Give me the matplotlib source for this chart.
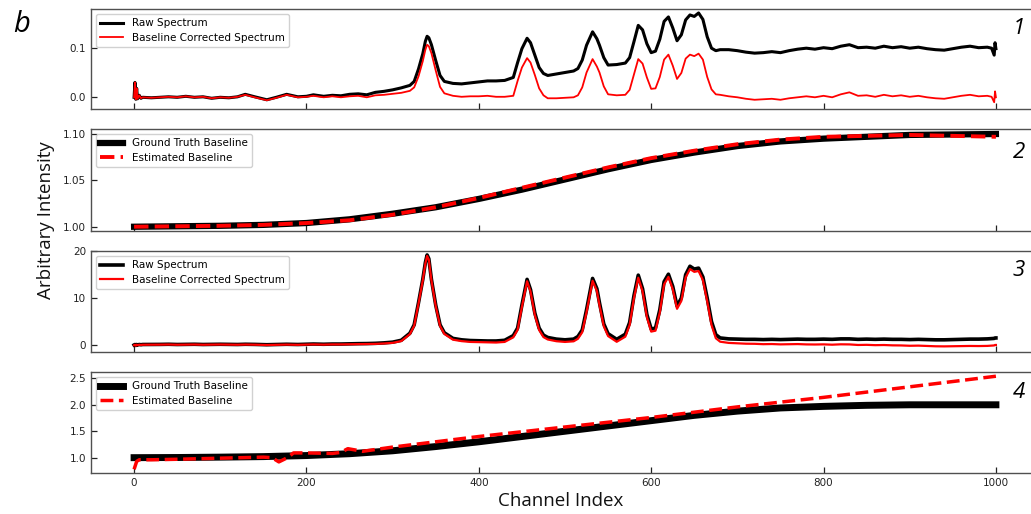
import matplotlib
matplotlib.use("Agg")
import matplotlib.pyplot as plt

# ---------------- data ----------------
channels = [0, 1, 2, 3, 4, 6, 8, 10,
            20, 30, 40, 50, 60, 70, 80, 90, 100, 110, 120,
            129, 140, 154, 165, 177, 190, 200, 208, 220, 230, 240,
            250, 260, 270, 280, 290, 300, 310, 320, 325, 330,
            335, 338, 340, 342, 345, 350, 355, 360, 370, 380, 390, 400,
            410, 420, 430, 440, 445, 450, 456, 460, 465, 470,
            475, 480, 490, 500, 510, 515, 520, 525, 532, 537,
            540, 545, 550, 560, 570, 575, 580, 585, 590, 595,
            600, 605, 610, 615, 620, 625, 630, 635, 640, 645,
            650, 655, 660, 665, 670, 675, 680, 690, 700, 710,
            720, 730, 740, 750, 760, 770, 780, 790, 800, 810,
            820, 830, 840, 850, 860, 870, 880, 890, 900, 910,
            920, 930, 940, 950, 960, 970, 980, 990, 995, 998,
            999, 1000]

raw1 = [0.000, 0.030, -0.004, 0.018, -0.003, 0.004, -0.002, 0.000,
        -0.001, 0.000, 0.001, 0.000, 0.002, 0.000, 0.001, -0.002, 0.000, -0.001, 0.001,
        0.006, 0.001, -0.005, 0.000, 0.006, 0.001, 0.002, 0.005, 0.002, 0.004, 0.003,
        0.006, 0.007, 0.005, 0.010, 0.012, 0.015, 0.019, 0.024, 0.032, 0.057,
        0.088, 0.113, 0.123, 0.120, 0.106, 0.074, 0.044, 0.032, 0.028, 0.027, 0.029, 0.031,
        0.033, 0.033, 0.034, 0.040, 0.070, 0.098, 0.119, 0.110, 0.085, 0.060,
        0.048, 0.044, 0.047, 0.050, 0.053, 0.058, 0.075, 0.105, 0.132, 0.118,
        0.105, 0.080, 0.065, 0.066, 0.069, 0.080, 0.112, 0.145, 0.136, 0.108,
        0.090, 0.093, 0.117, 0.153, 0.162, 0.140, 0.114, 0.126, 0.156, 0.166,
        0.163, 0.170, 0.157, 0.122, 0.099, 0.094, 0.096, 0.096, 0.094, 0.091,
        0.089, 0.090, 0.092, 0.090, 0.094, 0.097, 0.099, 0.097, 0.100, 0.098,
        0.103, 0.106, 0.100, 0.101, 0.099, 0.103, 0.100, 0.102, 0.099, 0.101,
        0.098, 0.096, 0.095, 0.098, 0.101, 0.103, 0.100, 0.101, 0.099, 0.085,
        0.110, 0.098]

corr1 = [0.000, 0.030, -0.004, 0.018, -0.003, 0.004, -0.002, 0.000,
         -0.001, 0.000, 0.001, 0.000, 0.002, 0.000, 0.001, -0.002, 0.000, -0.001, 0.001,
         0.005, 0.000, -0.006, -0.001, 0.005, 0.000, 0.001, 0.003, 0.000, 0.002, 0.000,
         0.002, 0.003, 0.000, 0.004, 0.005, 0.007, 0.009, 0.013, 0.020, 0.042,
         0.073, 0.096, 0.106, 0.103, 0.089, 0.054, 0.021, 0.008, 0.003, 0.001, 0.002, 0.002,
         0.003, 0.001, 0.001, 0.003, 0.033, 0.060, 0.079, 0.070, 0.045, 0.018,
         0.004, -0.002, -0.002, -0.001, 0.000, 0.004, 0.020, 0.050, 0.077, 0.062,
         0.050, 0.022, 0.006, 0.004, 0.005, 0.015, 0.046, 0.077, 0.068, 0.040,
         0.017, 0.018, 0.041, 0.076, 0.086, 0.064, 0.037, 0.049, 0.078, 0.086,
         0.083, 0.088, 0.076, 0.041, 0.016, 0.006, 0.005, 0.002, 0.000, -0.003,
         -0.005, -0.004, -0.003, -0.005, -0.002, 0.000, 0.002, 0.000, 0.003, 0.000,
         0.006, 0.010, 0.003, 0.004, 0.001, 0.005, 0.002, 0.004, 0.001, 0.003,
         0.000, -0.002, -0.003, 0.000, 0.003, 0.005, 0.002, 0.003, 0.001, -0.010,
         0.012, 0.000]

raw3 = [0.0, 0.1, -0.1, 0.1, 0.0, 0.1, 0.05, 0.1,
        0.1, 0.12, 0.15, 0.1, 0.12, 0.15, 0.1, 0.12, 0.15, 0.12, 0.1,
        0.15, 0.12, 0.05, 0.1, 0.15, 0.1, 0.15, 0.2, 0.15, 0.2, 0.2,
        0.25, 0.28, 0.3, 0.35, 0.45, 0.6, 1.0, 2.5, 4.3, 9.0,
        14.0, 17.6, 19.2, 18.4, 14.0, 8.5, 4.3, 2.6, 1.4, 1.1, 0.95, 0.9,
        0.85, 0.85, 1.0, 2.0, 3.6, 8.5, 14.0, 11.8, 6.8, 3.6,
        2.1, 1.6, 1.25, 1.1, 1.25, 1.8, 3.2, 7.5, 14.2, 12.0,
        9.0, 4.5, 2.4, 1.2, 2.3, 4.8, 10.5, 14.9, 12.0, 6.5,
        3.4, 3.6, 7.5, 13.5, 15.1, 12.5, 8.3, 10.0, 15.0, 16.8,
        16.2, 16.4, 14.5, 10.0, 5.0, 2.2, 1.5, 1.3, 1.25, 1.2,
        1.2, 1.15, 1.2, 1.15, 1.2, 1.25, 1.2, 1.2, 1.25, 1.2,
        1.3, 1.3, 1.2, 1.25, 1.2, 1.25, 1.2, 1.2, 1.15, 1.2,
        1.15, 1.1, 1.1, 1.15, 1.2, 1.25, 1.25, 1.3, 1.35, 1.4,
        1.5, 1.5]

corr3 = [-0.05, 0.05, -0.15, 0.05, -0.05, 0.05, 0.0, 0.05,
         0.05, 0.07, 0.1, 0.05, 0.07, 0.1, 0.05, 0.07, 0.1, 0.07, 0.05,
         0.09, 0.06, -0.01, 0.03, 0.08, 0.03, 0.08, 0.12, 0.07, 0.12, 0.12,
         0.15, 0.18, 0.19, 0.23, 0.32, 0.45, 0.83, 2.31, 4.1, 8.8,
         13.8, 17.4, 19.0, 18.2, 13.8, 8.28, 4.07, 2.35, 1.13, 0.82, 0.65, 0.6,
         0.53, 0.52, 0.65, 1.63, 3.22, 8.12, 13.6, 11.4, 6.4, 3.18,
         1.68, 1.17, 0.8, 0.65, 0.78, 1.32, 2.72, 7.0, 13.7, 11.5,
         8.5, 4.0, 1.9, 0.68, 1.77, 4.27, 9.97, 14.35, 11.45, 5.95,
         2.85, 3.05, 6.95, 12.93, 14.53, 11.92, 7.72, 9.4, 14.4, 16.2,
         15.6, 15.78, 13.85, 9.32, 4.28, 1.44, 0.7, 0.44, 0.35, 0.27,
         0.25, 0.17, 0.2, 0.13, 0.16, 0.19, 0.12, 0.1, 0.13, 0.06,
         0.14, 0.12, 0.0, 0.03, -0.04, -0.01, -0.08, -0.1, -0.17, -0.14,
         -0.21, -0.28, -0.3, -0.27, -0.24, -0.21, -0.23, -0.2, -0.15, -0.1,
         0.0, 0.0]

base_ch = [0, 50, 100, 150, 200, 250, 300, 350, 400, 450, 500,
           550, 600, 650, 700, 750, 800, 850, 900, 950, 1000]
truth2 = [1.000, 1.0005, 1.001, 1.002, 1.004, 1.008, 1.014, 1.021, 1.030, 1.040, 1.051,
          1.062, 1.072, 1.080, 1.087, 1.092, 1.095, 1.097, 1.099, 1.0995, 1.100]
est2 = [1.000, 1.0005, 1.001, 1.002, 1.004, 1.007, 1.013, 1.021, 1.031, 1.042, 1.053,
        1.064, 1.074, 1.082, 1.089, 1.094, 1.097, 1.098, 1.099, 1.098, 1.097]

truth4 = [1.0, 1.003, 1.01, 1.02, 1.04, 1.075, 1.13, 1.21, 1.30, 1.40, 1.50,
          1.60, 1.70, 1.80, 1.88, 1.94, 1.97, 1.99, 2.0, 2.0, 2.0]
est4_ch = [0, 3, 6, 20, 50, 100, 150, 160, 168, 178,
           185, 200, 230, 240, 248, 255, 265, 300, 350, 400,
           450, 500, 550, 600, 650, 700, 750, 800, 850, 900,
           950, 1000]
est4 = [0.78, 0.93, 0.96, 0.96, 0.97, 0.99, 1.01, 1.00, 0.92, 1.00,
        1.09, 1.09, 1.08, 1.10, 1.17, 1.15, 1.12, 1.20, 1.30, 1.40,
        1.49, 1.58, 1.67, 1.76, 1.86, 1.96, 2.05, 2.14, 2.24, 2.34,
        2.44, 2.54]

x_ticks = [0, 200, 400, 600, 800, 1000]

assert len(channels) == len(raw1) == len(corr1) == len(raw3) == len(corr3)

# ---------------- figure ----------------
plt.rcParams['font.family'] = ['DejaVu Sans']
W, H = 1031, 514
fig = plt.figure(figsize=(W / 100, H / 100), dpi=100)

left = 91 / W
width = 948 / W
boxes = [(9, 109), (129, 231), (251, 352), (372, 473)]
axes = []
for top, bot in boxes:
    ax = fig.add_axes([left, (H - bot) / H, width, (bot - top) / H])
    axes.append(ax)

spine_col = '#505050'
for i, ax in enumerate(axes):
    ax.set_xlim(-50, 1050)
    ax.set_xticks(x_ticks)
    ax.tick_params(direction='in', length=4.5, width=0.9, colors='#222222',
                   labelsize=7.5, top=False, right=False)
    for s in ax.spines.values():
        s.set_color(spine_col)
        s.set_linewidth(1.0)
    if i < 3:
        ax.tick_params(axis='x', labelbottom=False)

leg_kw = dict(loc='upper left', fontsize=7.5, framealpha=0.9, edgecolor='#cccccc',
              handlelength=2.2, borderpad=0.4, labelspacing=0.45)

# panel 1
ax = axes[0]
ax.plot(channels, raw1, color='black', lw=2.2, label='Raw Spectrum')
ax.plot(channels, corr1, color='red', lw=1.3, label='Baseline Corrected Spectrum')
ax.set_ylim(-0.0236, 0.178)
ax.set_yticks([0.0, 0.1])
ax.set_yticklabels(['0.0', '0.1'])
ax.legend(**leg_kw)

# panel 2
ax = axes[1]
ax.plot(base_ch, truth2, color='black', lw=4.5, label='Ground Truth Baseline')
ax.plot(base_ch, est2, color='red', lw=2.8, ls='--', label='Estimated Baseline')
ax.set_ylim(0.9954, 1.1054)
ax.set_yticks([1.00, 1.05, 1.10])
ax.set_yticklabels(['1.00', '1.05', '1.10'])
ax.legend(**leg_kw)

# panel 3
ax = axes[2]
ax.plot(channels, raw3, color='black', lw=2.6, label='Raw Spectrum')
ax.plot(channels, corr3, color='red', lw=1.6, label='Baseline Corrected Spectrum')
ax.set_ylim(-1.5, 20.05)
ax.set_yticks([0, 10, 20])
ax.legend(**leg_kw)

# panel 4
ax = axes[3]
ax.plot(base_ch, truth4, color='black', lw=5, label='Ground Truth Baseline')
ax.plot(est4_ch, est4, color='red', lw=2.5, ls='--', label='Estimated Baseline')
ax.set_ylim(0.71, 2.62)
ax.set_yticks([1.0, 1.5, 2.0, 2.5])
ax.set_yticklabels(['1.0', '1.5', '2.0', '2.5'])
ax.legend(**leg_kw)

# labels
lab_font = ['Open Sans', 'DejaVu Sans']
fig.text(46 / W, (H - 220) / H, 'Arbitrary Intensity', rotation=90, ha='center',
         va='center', fontsize=13.5, family=lab_font, color='#111111')
fig.text(561 / W, (H - 501) / H, 'Channel Index', ha='center', va='center',
         fontsize=13.5, family=lab_font, color='#111111')
fig.text(22 / W, (H - 25) / H, 'b', ha='center', va='center', fontsize=21,
         style='italic', family=lab_font)
for lbl, yc in zip(['1', '2', '3', '4'], [28, 153, 271, 392]):
    fig.text(1019 / W, (H - yc) / H, lbl, ha='center', va='center', fontsize=16,
             style='italic', family=lab_font)

fig.savefig('out.png', dpi=100)
